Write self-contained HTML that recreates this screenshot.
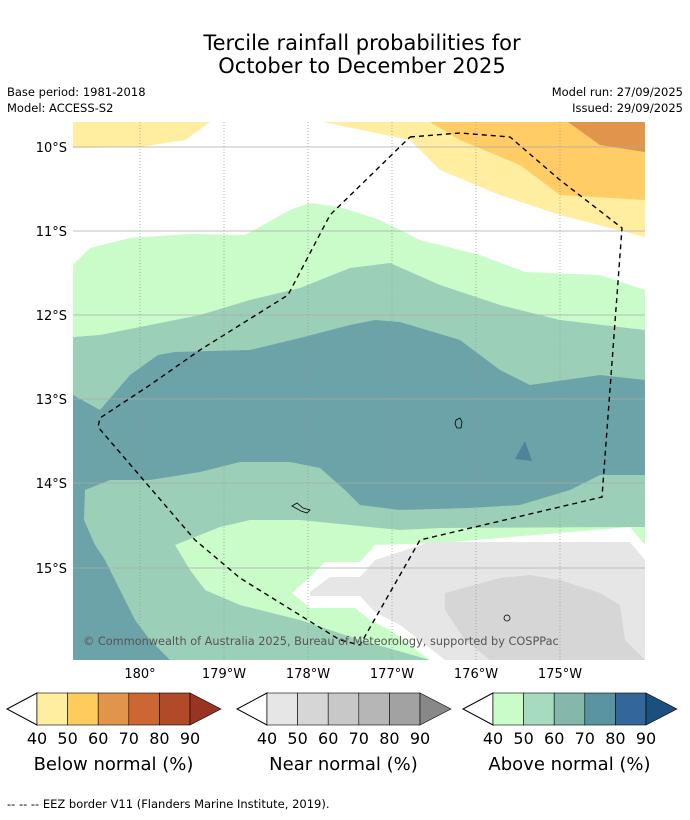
<!DOCTYPE html>
<html><head><meta charset="utf-8"><style>
body{margin:0;background:#fff;font-family:"DejaVu Sans","Liberation Sans",sans-serif;}
</style></head><body>
<svg width="690" height="816" viewBox="0 0 690 816" xmlns="http://www.w3.org/2000/svg" font-family="DejaVu Sans, Liberation Sans, sans-serif">
<g>
<text x="362" y="50" font-size="21" text-anchor="middle">Tercile rainfall probabilities for</text>
<text x="362" y="73" font-size="21" text-anchor="middle">October to December 2025</text>
</g>
<g font-size="11.5">
<text x="7" y="96">Base period: 1981-2018</text>
<text x="7" y="112">Model: ACCESS-S2</text>
<text x="683" y="96" text-anchor="end">Model run: 27/09/2025</text>
<text x="683" y="112" text-anchor="end">Issued: 29/09/2025</text>
</g>
<defs><clipPath id="mc"><rect x="73" y="122" width="572" height="538"/></clipPath></defs>
<g clip-path="url(#mc)">
<rect x="73" y="122" width="572" height="538" fill="#fff"/>
<polygon fill="#ffeda0" points="73,122 210,122 185,140 140,147 73,148"/>
<polygon fill="#ffeda0" points="323,122 645,122 645,237 560,215 500,195 440,170 410,140"/>
<polygon fill="#ffcc66" points="430,122 645,122 645,200 560,195 520,165 460,140"/>
<polygon fill="#e0954a" points="568,122 645,122 645,152 600,145"/>
<polygon fill="#c9fcc9" points="73,265 90,248 130,238 190,234 245,235 290,210 310,203 340,207 380,220 420,240 480,255 525,272 600,275 645,290 645,660 73,660"/>
<polygon fill="#9ccfb8" points="73,337 100,335 150,325 200,315 250,300 300,288 350,268 390,263 440,285 500,305 560,320 645,330 645,660 73,660"/>
<polygon fill="#6ca3a8" points="73,395 100,410 130,375 158,355 175,352 250,350 300,338 350,325 375,320 400,322 460,340 500,370 530,385 600,375 645,380 645,475 600,475 570,490 520,505 470,508 400,510 360,505 345,490 320,468 290,462 240,462 200,472 150,480 110,480 85,490 73,480"/>
<polygon fill="#6ca3a8" points="73,480 85,490 84,520 95,545 105,560 120,590 135,620 150,640 170,660 73,660"/>
<polygon fill="#c9fcc9" points="175,545 220,527 250,520 300,520 400,530 440,528 645,527 645,660 430,660 360,640 300,620 240,605 205,590 190,570"/>
<polygon fill="#ffffff" points="292,593 310,577 325,562 360,562 375,545 440,543 630,527 645,545 645,660 430,660 390,630 370,620 355,608 310,608"/>
<polygon fill="#e6e6e6" points="310,592 330,577 360,577 375,560 430,542 630,542 645,560 645,660 445,660 400,625 375,612 360,596 310,596"/>
<polygon fill="#d6d6d6" points="445,593 500,578 530,575 560,580 600,593 620,605 625,640 645,660 490,660 465,640 445,610"/>
<polygon fill="#4f8397" points="525,441 532,461 515,459"/>
<g>
<g stroke="#999" stroke-width="0.8" stroke-dasharray="1,2">
<line x1="140" y1="122" x2="140" y2="660"/><line x1="224" y1="122" x2="224" y2="660"/><line x1="308" y1="122" x2="308" y2="660"/><line x1="392" y1="122" x2="392" y2="660"/><line x1="476" y1="122" x2="476" y2="660"/><line x1="560" y1="122" x2="560" y2="660"/>
</g>
<g stroke="#aaa" stroke-width="0.7">
<line x1="73" y1="147" x2="645" y2="147"/><line x1="73" y1="231" x2="645" y2="231"/><line x1="73" y1="315" x2="645" y2="315"/><line x1="73" y1="399" x2="645" y2="399"/><line x1="73" y1="483" x2="645" y2="483"/><line x1="73" y1="568" x2="645" y2="568"/>
</g></g>
<polyline fill="none" stroke="#000" stroke-width="1.4" stroke-dasharray="5,4" points="410,137 460,133 510,137 560,180 622,228 602,497 420,540 360,645 340,640 240,578 195,540 98,427 100,418 150,385 200,350 288,295 330,215 410,137"/>
<path d="M456,420 l4,-2 2,4 -1,6 -4,0 -2,-4z" fill="none" stroke="#000" stroke-width="0.8"/>
<path d="M292,506 l5,-3 6,5 7,2 -3,3 -6,-2z" fill="none" stroke="#000" stroke-width="0.8"/>
<circle cx="507" cy="618" r="3" fill="none" stroke="#000" stroke-width="0.8"/>
<text x="83" y="645" font-size="11.3" fill="#555">© Commonwealth of Australia 2025, Bureau of Meteorology, supported by COSPPac</text>
</g>
<g font-size="13" text-anchor="end">
<text x="67" y="152">10°S</text><text x="67" y="236">11°S</text><text x="67" y="320">12°S</text><text x="67" y="404">13°S</text><text x="67" y="488">14°S</text><text x="67" y="573">15°S</text>
</g>
<g font-size="13" text-anchor="middle">
<text x="140" y="678">180°</text><text x="224" y="678">179°W</text><text x="308" y="678">178°W</text><text x="392" y="678">177°W</text><text x="476" y="678">176°W</text><text x="560" y="678">175°W</text>
</g>
<g id="bars"></g>
<text x="7" y="808" font-size="11.5">--  --  -- EEZ border V11 (Flanders Marine Institute, 2019).</text>
</svg>
<script>
const legendTitles = ["Below normal (%)", "Near normal (%)", "Above normal (%)"];
const tickLabels = ["40","50","60","70","80","90"];
const belowColors = ["#ffeda0","#fecc5c","#e0954a","#cc6633","#b04a28","#993322"];
const nearColors = ["#e6e6e6","#d6d6d6","#c8c8c8","#b6b6b6","#a2a2a2","#888888"];
const aboveColors = ["#c9fcc9","#a6dbbf","#85b8ab","#5a94a3","#336699","#1a4f80"];
const NS="http://www.w3.org/2000/svg";
const g=document.getElementById('bars');
const starts=[37,267,493];
const sets=[belowColors,nearColors,aboveColors];
const w=30.6, y0=693, h=32;
starts.forEach((sx,i)=>{
  const grp=document.createElementNS(NS,'g');
  
  
  const lt=document.createElementNS(NS,'polygon');
  lt.setAttribute('points',`${sx},${y0} ${sx-30},${y0+h/2} ${sx},${y0+h}`);
  lt.setAttribute('fill','#fff');lt.setAttribute('stroke','#000');
  
  
  grp.appendChild(lt);
  for(let k=0;k<5;k++){
    const r=document.createElementNS(NS,'rect');
    r.setAttribute('x',sx+k*w);r.setAttribute('y',y0);r.setAttribute('width',w);r.setAttribute('height',h);
    r.setAttribute('fill',sets[i][k]);r.setAttribute('stroke','#000');r.setAttribute('stroke-width','0.6');
    
    
    grp.appendChild(r);
  }
  const ex=sx+5*w;
  const rt=document.createElementNS(NS,'polygon');
  rt.setAttribute('points',`${ex},${y0} ${ex+31},${y0+h/2} ${ex},${y0+h}`);
  rt.setAttribute('fill',sets[i][5]);rt.setAttribute('stroke','#000');rt.setAttribute('stroke-width','0.6');
  
  
  grp.appendChild(rt);
  tickLabels.forEach((t,k)=>{
    const tx=document.createElementNS(NS,'text');
    tx.setAttribute('x',sx+k*w);tx.setAttribute('y',744);tx.setAttribute('font-size','16');tx.setAttribute('text-anchor','middle');
    tx.textContent=t;
    
    
    grp.appendChild(tx);
  });
  const tt=document.createElementNS(NS,'text');
  tt.setAttribute('x',sx+2.5*w);tt.setAttribute('y',770);tt.setAttribute('font-size','18');tt.setAttribute('text-anchor','middle');
  tt.textContent=legendTitles[i];
  
  
  grp.appendChild(tt);
  g.appendChild(grp);
});
</script>
</body></html>
